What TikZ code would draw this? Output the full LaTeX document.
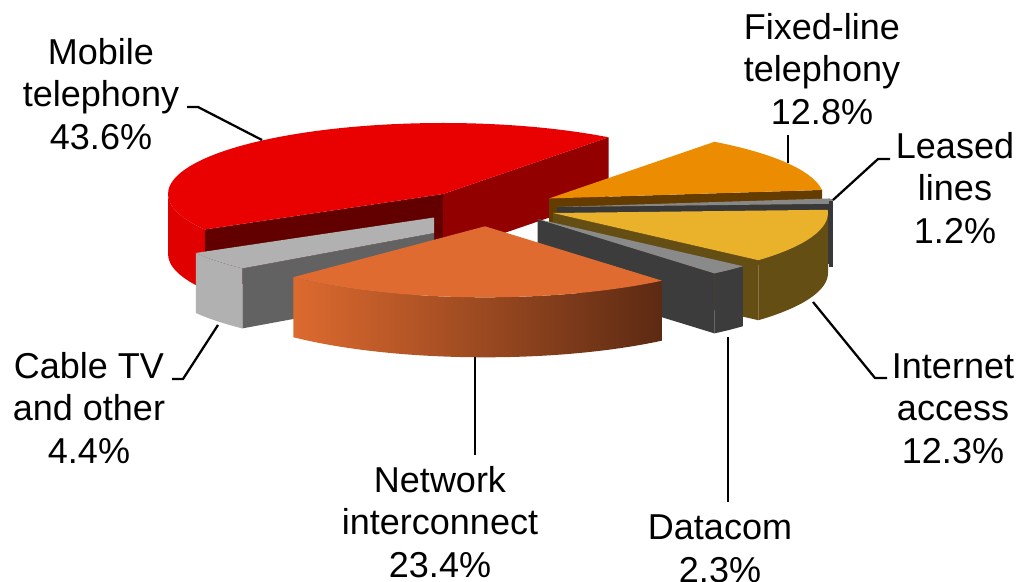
\documentclass[tikz,border=0pt]{standalone}
\usepackage{fontspec}
\setmainfont{Liberation Sans}
\definecolor{redtop}{HTML}{E90000}
\definecolor{redwall}{HTML}{E10000}
\definecolor{redcutR}{HTML}{920000}
\definecolor{redcutL}{HTML}{620000}
\definecolor{graytop}{HTML}{B1B1B1}
\definecolor{graycut}{HTML}{626262}
\definecolor{orgtop}{HTML}{DF6B31}
\definecolor{orgwallL}{HTML}{DD6A2F}
\definecolor{orgwallM}{HTML}{B45628}
\definecolor{orgwallR}{HTML}{5C2A13}
\definecolor{dctop}{HTML}{8A8A8A}
\definecolor{dcdark}{HTML}{3C3C3C}
\definecolor{yeltop}{HTML}{EAB12A}
\definecolor{yelwall}{HTML}{654E14}
\definecolor{lltop}{HTML}{878787}
\definecolor{lldark}{HTML}{383838}
\definecolor{fxtop}{HTML}{EC8C00}
\definecolor{fxcut}{HTML}{643C00}
% top face of a pie slice: apex #1, angles #2 -> #3, style #4
\newcommand\slicetop[4]{%
  \path[#4] (#1) -- ++(#2:275 and 71)
    arc[start angle=#2, end angle=#3, x radius=275, y radius=71] -- cycle;}
% radial cut face of a slice at angle #2
\newcommand\slicecut[3]{%
  \path[#3] (#1) -- ++(#2:275 and 71) -- ++(0,60) -- ++({#2+180}:275 and 71) -- cycle;}
% outer rim of a slice between angles #2 and #3
\newcommand\slicewall[4]{%
  \path[#4] (#1) ++(#2:275 and 71)
    arc[start angle=#2, end angle=#3, x radius=275, y radius=71] -- ++(0,60)
    arc[start angle=#3, end angle=#2, x radius=275, y radius=71] -- cycle;}
\begin{document}
\begin{tikzpicture}[x=0.75pt,y=-0.75pt,
  lbl/.style={align=center, inner sep=0pt, anchor=base,
    font=\fontsize{27}{31.7}\selectfont},
  leader/.style={draw=black, line width=1.7pt}]
\useasboundingbox[fill=white] (0,0) rectangle (1022,582);

% slice apexes (exploded positions)
\coordinate (cMob) at (443,194);
\coordinate (cCab) at (434,217.5);
\coordinate (cNet) at (485,226.3);
\coordinate (cDat) at (537.5,219);
\coordinate (cInt) at (553,213);
\coordinate (cLea) at (557,207);
\coordinate (cFix) at (549,198.5);

% Mobile telephony
\slicewall{cMob}{-180}{-209.96}{fill=redwall}
\slicecut{cMob}{-209.96}{fill=redcutL}
\slicecut{cMob}{-53}{fill=redcutR}
\slicetop{cMob}{-53}{-209.96}{fill=redtop}

% Fixed-line telephony
\slicecut{cFix}{-6.92}{fill=fxcut}
\slicetop{cFix}{-6.92}{-53}{fill=fxtop}

% Leased lines
\slicecut{cLea}{-2.6}{fill=lldark}
\slicetop{cLea}{-2.6}{-6.92}{fill=lltop}
\fill[lldark] (828.5,200) rectangle (832.5,267);
\fill[lltop] (828.5,198.5) rectangle (832.5,201);

% Internet access
\slicecut{cInt}{-318.32}{fill=yelwall}
\slicewall{cInt}{-318.32}{-360}{fill=yelwall}
\slicetop{cInt}{-318.32}{-362.6}{fill=yeltop}

% Datacom
\slicecut{cDat}{-310.04}{fill=dcdark}
\slicewall{cDat}{-310.04}{-318.32}{fill=dcdark}
\slicetop{cDat}{-310.04}{-318.32}{fill=dctop}

% Cable TV and other
\fill[graycut] (434,233) -- (242.3,268.4) -- (242.3,328.4) -- (434,293) -- cycle;
\slicewall{cCab}{-209.96}{-225.8}{fill=graytop}
\fill[graytop] (cCab) -- ++(-209.96:275 and 71)
  arc[start angle=-209.96, end angle=-225.8, x radius=275, y radius=71]
  -- (434,233) -- cycle;

% Network interconnect
\slicewall{cNet}{-225.8}{-310.04}{left color=orgwallL, middle color=orgwallM, right color=orgwallR}
\slicetop{cNet}{-225.8}{-310.04}{fill=orgtop}

% labels (anchored at the baseline of their last line)
\node[lbl] (lMob) at (101,149) {Mobile\\telephony\\43.6\%};
\node[lbl] (lFix) at (822,124) {Fixed-line\\telephony\\12.8\%};
\node[lbl] (lLea) at (955,243) {Leased\\lines\\1.2\%};
\node[lbl] (lCab) at (89,463) {Cable TV\\and other\\4.4\%};
\node[lbl] (lInt) at (953,463) {Internet\\access\\12.3\%};
\node[lbl] (lNet) at (440,577) {Network\\interconnect\\23.4\%};
\node[lbl] (lDat) at (720,582) {Datacom\\2.3\%};

% leader lines
\coordinate (mA) at (187,107); \coordinate (mB) at (198,107); \coordinate (mC) at (262,140);
\coordinate (fA) at (788,135); \coordinate (fC) at (788,163);
\coordinate (sA) at (890,159); \coordinate (sB) at (878,159); \coordinate (sC) at (833,200);
\coordinate (kA) at (172,379); \coordinate (kB) at (183,379); \coordinate (kC) at (218,325);
\coordinate (iA) at (887,378); \coordinate (iB) at (875,378); \coordinate (iC) at (813,302);
\coordinate (nA) at (475,455); \coordinate (nC) at (475,357);
\coordinate (dA) at (728,502); \coordinate (dC) at (728,337);
\draw[leader] (mA) -- (mB) -- (mC);
\draw[leader] (fA) -- (fC);
\draw[leader] (sA) -- (sB) -- (sC);
\draw[leader] (kA) -- (kB) -- (kC);
\draw[leader] (iA) -- (iB) -- (iC);
\draw[leader] (nA) -- (nC);
\draw[leader] (dA) -- (dC);
\end{tikzpicture}
\end{document}
